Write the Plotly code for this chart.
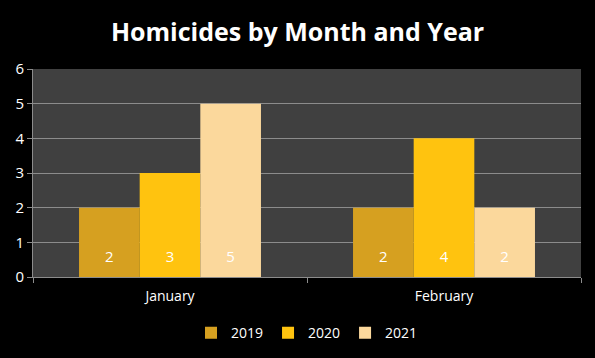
import plotly.graph_objects as go

months = ["January", "February"]
years = ["2019", "2020", "2021"]
values_2019 = [2, 2]
values_2020 = [3, 4]
values_2021 = [5, 2]
colors = ["#D6A020", "#FFC30F", "#FBD89C"]
y_ticks = [0, 1, 2, 3, 4, 5, 6]

series = [values_2019, values_2020, values_2021]

fig = go.Figure()
for yr, vals, col in zip(years, series, colors):
    fig.add_trace(go.Bar(
        x=months, y=vals, name=yr, offsetgroup=yr,
        marker=dict(color=col, line=dict(width=0)),
    ))
for yr, vals in zip(years, series):
    fig.add_trace(go.Scatter(
        x=months, y=[0] * len(vals), offsetgroup=yr, mode="markers+text",
        marker=dict(size=16, color="rgba(0,0,0,0)", line=dict(width=0)),
        text=[str(v) for v in vals], textposition="top center",
        textfont=dict(color="white", size=15, family="Open Sans"),
        showlegend=False, hoverinfo="skip", cliponaxis=False,
    ))

fig.update_layout(
    width=595, height=358,
    paper_bgcolor="black", plot_bgcolor="#404040",
    barmode="group", bargap=0.336, bargroupgap=0,
    scattermode="group", scattergap=0.336,
    margin=dict(l=33, r=14, t=69, b=81, autoexpand=False),
    title=dict(text="<b>Homicides by Month and Year</b>", x=0.5, xanchor="center",
               y=0.91, yanchor="middle",
               font=dict(color="white", size=25, family="Open Sans")),
    font=dict(family="Open Sans", color="white", size=14),
    legend=dict(orientation="h", x=0.5, xanchor="center", y=-0.27, yanchor="middle",
                font=dict(color="white", size=14), itemwidth=30, tracegroupgap=0,
                bgcolor="rgba(0,0,0,0)"),
)
fig.update_yaxes(range=[0, 6], tickvals=y_ticks, showgrid=True, gridcolor="#8C8C8C",
                 gridwidth=1, showline=True, linecolor="#8C8C8C", ticks="outside",
                 tickcolor="#8C8C8C", ticklen=5, tickfont=dict(color="white", size=15),
                 zeroline=False)
fig.update_xaxes(showline=True, linecolor="#8C8C8C", ticks="outside", tickson="boundaries",
                 tickcolor="#8C8C8C", ticklen=5, ticklabelstandoff=6,
                 tickfont=dict(color="white", size=14), showgrid=False)

fig.write_html("out.html", config={"displayModeBar": False},
               post_script="document.body.style.margin='0';document.body.style.background='black';")
